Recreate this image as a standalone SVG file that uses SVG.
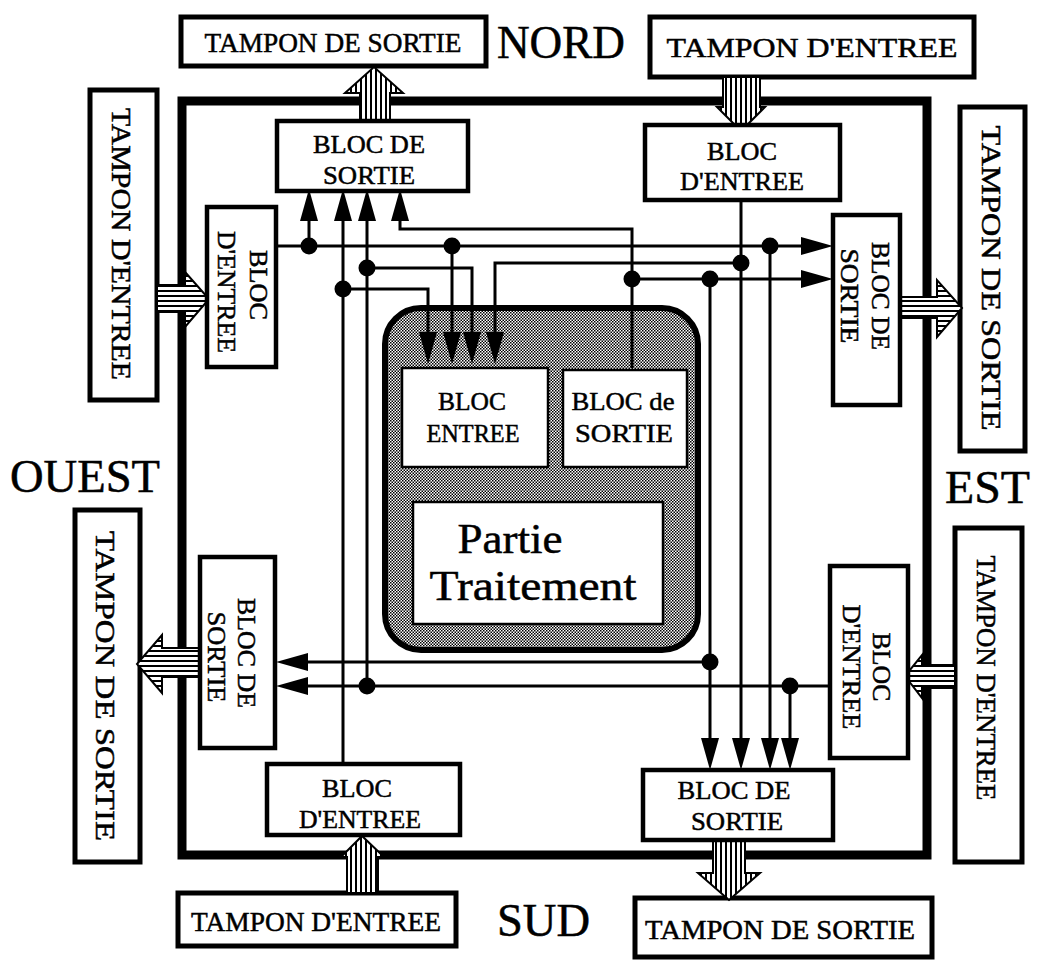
<svg xmlns="http://www.w3.org/2000/svg" width="1037" height="960" viewBox="0 0 1037 960">
<style>
.t{font-family:"Liberation Serif","Times New Roman",serif;fill:#000;stroke:#000;stroke-width:0.5}
.tb{fill:#fff;stroke:#000;stroke-width:5}
.bk{fill:#fff;stroke:#000;stroke-width:4.5}
.w{fill:none;stroke:#000;stroke-width:3}
.wa{fill:none;stroke:#000;stroke-width:3;marker-end:url(#ah)}
.dot{fill:#000}
.av{fill:url(#vs);stroke:#000;stroke-width:2}
.ah2{fill:url(#hs);stroke:#000;stroke-width:2}
</style>
<defs>
<pattern id="vs" width="5" height="5" patternUnits="userSpaceOnUse"><rect width="5" height="5" fill="#fff"/><rect width="2" height="5" fill="#000"/></pattern>
<pattern id="hs" width="5" height="5" patternUnits="userSpaceOnUse"><rect width="5" height="5" fill="#fff"/><rect width="5" height="2" fill="#000"/></pattern>
<pattern id="dots" width="3" height="3" patternUnits="userSpaceOnUse"><rect width="3" height="3" fill="#fff"/><rect width="1.5" height="1.5" fill="#000"/><rect x="1.5" y="1.5" width="1.5" height="1.5" fill="#000"/></pattern>
<marker id="ah" markerUnits="userSpaceOnUse" markerWidth="34" markerHeight="20" viewBox="-33 -10 34 20" refX="-12" refY="0" orient="auto"><path d="M0,0 L-32,-9 L-32,9 Z" fill="#000"/></marker>
</defs>
<rect width="1037" height="960" fill="#fff"/>

<!-- outer frame -->
<rect id="frame" x="182" y="101" width="745" height="754" fill="none" stroke="#000" stroke-width="9"/>

<!-- tampons -->
<g id="tampon-nord-sortie"><rect class="tb" x="181" y="17" width="305" height="49"/><text class="t" x="333" y="52" font-size="28" text-anchor="middle" textLength="257" lengthAdjust="spacingAndGlyphs">TAMPON DE SORTIE</text></g>
<g id="tampon-nord-entree"><rect class="tb" x="650" y="17" width="324" height="60"/><text class="t" x="812" y="57" font-size="28" text-anchor="middle" textLength="291" lengthAdjust="spacingAndGlyphs">TAMPON D'ENTREE</text></g>
<g id="tampon-ouest-entree"><rect class="tb" x="90" y="90" width="67" height="310"/><text class="t" transform="translate(112,244) rotate(90)" font-size="28" text-anchor="middle" textLength="272" lengthAdjust="spacingAndGlyphs">TAMPON D'ENTREE</text></g>
<g id="tampon-est-sortie"><rect class="tb" x="960" y="107" width="65" height="344"/><text class="t" transform="translate(982,278) rotate(90)" font-size="28" text-anchor="middle" textLength="305" lengthAdjust="spacingAndGlyphs">TAMPON DE SORTIE</text></g>
<g id="tampon-ouest-sortie"><rect class="tb" x="75" y="510" width="65" height="352"/><text class="t" transform="translate(96,686) rotate(90)" font-size="28" text-anchor="middle" textLength="310" lengthAdjust="spacingAndGlyphs">TAMPON DE SORTIE</text></g>
<g id="tampon-est-entree"><rect class="tb" x="955" y="528" width="67" height="334"/><text class="t" transform="translate(977,678) rotate(90)" font-size="28" text-anchor="middle" textLength="245" lengthAdjust="spacingAndGlyphs">TAMPON D'ENTREE</text></g>
<g id="tampon-sud-entree"><rect class="tb" x="178" y="893" width="278" height="53"/><text class="t" x="316" y="931" font-size="28" text-anchor="middle" textLength="250" lengthAdjust="spacingAndGlyphs">TAMPON D'ENTREE</text></g>
<g id="tampon-sud-sortie"><rect class="tb" x="635" y="898" width="297" height="59"/><text class="t" x="780" y="939" font-size="28" text-anchor="middle" textLength="270" lengthAdjust="spacingAndGlyphs">TAMPON DE SORTIE</text></g>

<!-- direction labels -->
<text class="t" x="497" y="58" font-size="46" textLength="128" lengthAdjust="spacingAndGlyphs">NORD</text>
<text class="t" x="10" y="492" font-size="46" textLength="150" lengthAdjust="spacingAndGlyphs">OUEST</text>
<text class="t" x="945" y="503" font-size="46" textLength="85" lengthAdjust="spacingAndGlyphs">EST</text>
<text class="t" x="497" y="936" font-size="46" textLength="93" lengthAdjust="spacingAndGlyphs">SUD</text>

<!-- big hatched arrows -->
<g id="big-arrows">
<polygon class="av" points="360,121 360,93 345,93 374,67 403,93 390,93 390,121"/>
<polygon class="av" points="723,77 760,77 760,107 765,107 741,131 717,107 723,107"/>
<polygon class="ah2" points="157,285 185,285 185,272 209,299 185,327 185,312 157,312"/>
<polygon class="ah2" points="900,297 937,297 937,280 962,308 937,337 937,318 900,318"/>
<polygon class="ah2" points="200,648 162,648 162,635 137,664 162,693 162,677 200,677"/>
<polygon class="ah2" points="955,665 922,665 922,655 905,676 922,698 922,688 955,688"/>
<polygon class="av" points="347,893 347,857 341,857 362,836 384,857 378,857 378,893"/>
<polygon class="av" points="713,840 745,840 745,873 760,873 729,900 698,873 713,873"/>
</g>

<!-- blocks -->
<g id="bloc-nord-sortie"><rect class="bk" x="277" y="121" width="191" height="70"/><text class="t" x="369" y="153" font-size="26" text-anchor="middle" textLength="112" lengthAdjust="spacingAndGlyphs">BLOC DE</text><text class="t" x="369" y="184" font-size="26" text-anchor="middle" textLength="92" lengthAdjust="spacingAndGlyphs">SORTIE</text></g>
<g id="bloc-nord-entree"><rect class="bk" x="645" y="125" width="195" height="75"/><text class="t" x="742" y="160" font-size="26" text-anchor="middle" textLength="70" lengthAdjust="spacingAndGlyphs">BLOC</text><text class="t" x="742" y="190" font-size="26" text-anchor="middle" textLength="124" lengthAdjust="spacingAndGlyphs">D'ENTREE</text></g>
<g id="bloc-ouest-entree"><rect class="bk" x="207" y="207" width="69" height="160"/><text class="t" transform="translate(250,285) rotate(90)" font-size="26" text-anchor="middle" textLength="70" lengthAdjust="spacingAndGlyphs">BLOC</text><text class="t" transform="translate(218,292) rotate(90)" font-size="26" text-anchor="middle" textLength="122" lengthAdjust="spacingAndGlyphs">D'ENTREE</text></g>
<g id="bloc-est-sortie"><rect class="bk" x="833" y="215" width="67" height="190"/><text class="t" transform="translate(872,296) rotate(90)" font-size="26" text-anchor="middle" textLength="108" lengthAdjust="spacingAndGlyphs">BLOC DE</text><text class="t" transform="translate(841,296) rotate(90)" font-size="26" text-anchor="middle" textLength="95" lengthAdjust="spacingAndGlyphs">SORTIE</text></g>
<g id="bloc-ouest-sortie"><rect class="bk" x="200" y="557" width="75" height="191"/><text class="t" transform="translate(238,653) rotate(90)" font-size="26" text-anchor="middle" textLength="110" lengthAdjust="spacingAndGlyphs">BLOC DE</text><text class="t" transform="translate(208,657) rotate(90)" font-size="26" text-anchor="middle" textLength="91" lengthAdjust="spacingAndGlyphs">SORTIE</text></g>
<g id="bloc-est-entree"><rect class="bk" x="830" y="566" width="78" height="192"/><text class="t" transform="translate(873,667) rotate(90)" font-size="26" text-anchor="middle" textLength="69" lengthAdjust="spacingAndGlyphs">BLOC</text><text class="t" transform="translate(843,667) rotate(90)" font-size="26" text-anchor="middle" textLength="125" lengthAdjust="spacingAndGlyphs">D'ENTREE</text></g>
<g id="bloc-sud-entree"><rect class="bk" x="267" y="764" width="193" height="71"/><text class="t" x="357" y="797" font-size="26" text-anchor="middle" textLength="70" lengthAdjust="spacingAndGlyphs">BLOC</text><text class="t" x="360" y="828" font-size="26" text-anchor="middle" textLength="122" lengthAdjust="spacingAndGlyphs">D'ENTREE</text></g>
<g id="bloc-sud-sortie"><rect class="bk" x="643" y="770" width="190" height="70"/><text class="t" x="734" y="799" font-size="26" text-anchor="middle" textLength="113" lengthAdjust="spacingAndGlyphs">BLOC DE</text><text class="t" x="737" y="830" font-size="26" text-anchor="middle" textLength="92" lengthAdjust="spacingAndGlyphs">SORTIE</text></g>

<!-- central processing unit -->
<g id="noeud-central">
<rect x="385" y="308" width="313" height="342" rx="36" fill="url(#dots)" stroke="#000" stroke-width="6"/>
<g id="bloc-central-entree"><rect x="402" y="368" width="146" height="99" fill="#fff" stroke="#000" stroke-width="2.5"/><text class="t" x="472" y="410" font-size="26" text-anchor="middle" textLength="68" lengthAdjust="spacingAndGlyphs">BLOC</text><text class="t" x="473" y="442" font-size="26" text-anchor="middle" textLength="93" lengthAdjust="spacingAndGlyphs">ENTREE</text></g>
<g id="bloc-central-sortie"><rect x="563" y="370" width="124" height="97" fill="#fff" stroke="#000" stroke-width="2.5"/><text class="t" x="623" y="410" font-size="26" text-anchor="middle" textLength="103" lengthAdjust="spacingAndGlyphs">BLOC de</text><text class="t" x="624" y="442" font-size="26" text-anchor="middle" textLength="98" lengthAdjust="spacingAndGlyphs">SORTIE</text></g>
<g id="partie-traitement"><rect x="413" y="502" width="250" height="122" fill="#fff" stroke="#000" stroke-width="2.5"/><text class="t" x="510" y="553" font-size="42" text-anchor="middle" textLength="105" lengthAdjust="spacingAndGlyphs">Partie</text><text class="t" x="533" y="600" font-size="42" text-anchor="middle" textLength="207" lengthAdjust="spacingAndGlyphs">Traitement</text></g>
</g>

<!-- connectors -->
<g id="connecteurs">
<path class="wa" d="M276,246 H821"/>
<path class="wa" d="M309,246 V201"/>
<path class="wa" d="M452,246 V352"/>
<path class="wa" d="M770,246 V758"/>
<path class="wa" d="M741,200 V758"/>
<path class="wa" d="M741,263 H495 V352"/>
<path class="wa" d="M830,686 H288"/>
<path class="wa" d="M367,686 V201"/>
<path class="wa" d="M367,268 H472 V352"/>
<path class="wa" d="M790,686 V758"/>
<path class="wa" d="M343,764 V201"/>
<path class="wa" d="M343,289 H428 V352"/>
<path class="wa" d="M632,368 V229 H400 V201"/>
<path class="wa" d="M632,279 H821"/>
<path class="wa" d="M710,279 V758"/>
<path class="wa" d="M710,662 H288"/>
<circle class="dot" cx="309" cy="246" r="8.5"/>
<circle class="dot" cx="452" cy="246" r="8.5"/>
<circle class="dot" cx="770" cy="246" r="8.5"/>
<circle class="dot" cx="741" cy="263" r="8.5"/>
<circle class="dot" cx="367" cy="268" r="8.5"/>
<circle class="dot" cx="367" cy="686" r="8.5"/>
<circle class="dot" cx="790" cy="686" r="8.5"/>
<circle class="dot" cx="343" cy="289" r="8.5"/>
<circle class="dot" cx="632" cy="279" r="8.5"/>
<circle class="dot" cx="710" cy="279" r="8.5"/>
<circle class="dot" cx="710" cy="662" r="8.5"/>
</g>
</svg>
